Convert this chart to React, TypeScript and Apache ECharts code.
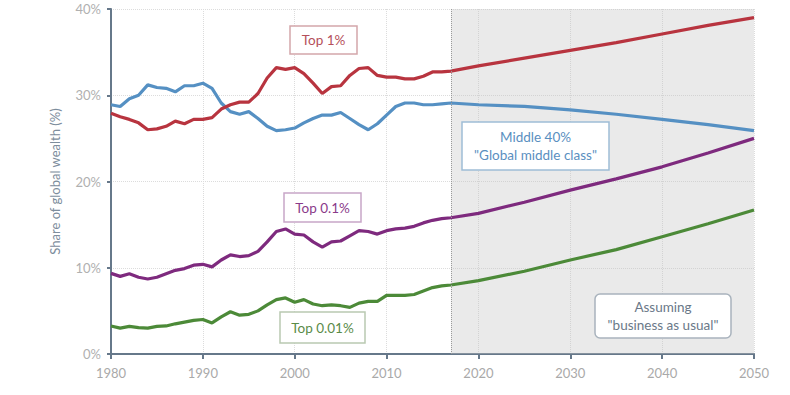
import React, { useEffect, useRef } from "react";
import * as echarts from "echarts";

const years = [
  1980, 1981, 1982, 1983, 1984, 1985, 1986, 1987, 1988, 1989,
  1990, 1991, 1992, 1993, 1994, 1995, 1996, 1997, 1998, 1999,
  2000, 2001, 2002, 2003, 2004, 2005, 2006, 2007, 2008, 2009,
  2010, 2011, 2012, 2013, 2014, 2015, 2016, 2017,
  2020, 2025, 2030, 2035, 2040, 2045, 2050,
];

const top1 = [
  27.9, 27.5, 27.2, 26.8, 26.0, 26.1, 26.4, 27.0, 26.7, 27.2,
  27.2, 27.4, 28.4, 28.9, 29.2, 29.2, 30.2, 32.0, 33.2, 33.0,
  33.2, 32.5, 31.4, 30.2, 31.0, 31.1, 32.3, 33.1, 33.2, 32.3,
  32.1, 32.1, 31.9, 31.9, 32.2, 32.7, 32.7, 32.8,
  33.4, 34.3, 35.2, 36.1, 37.1, 38.1, 39.0,
];

const middle40 = [
  28.9, 28.7, 29.6, 30.0, 31.2, 30.9, 30.8, 30.4, 31.1, 31.1,
  31.4, 30.8, 29.1, 28.1, 27.8, 28.1, 27.3, 26.4, 25.9, 26.0,
  26.2, 26.8, 27.3, 27.7, 27.7, 28.0, 27.3, 26.6, 26.0, 26.7,
  27.7, 28.7, 29.1, 29.1, 28.9, 28.9, 29.0, 29.1,
  28.9, 28.7, 28.3, 27.8, 27.2, 26.6, 25.9,
];

const top01 = [
  9.35, 9.0, 9.3, 8.9, 8.7, 8.9, 9.3, 9.7, 9.9, 10.3,
  10.4, 10.1, 10.9, 11.5, 11.3, 11.4, 11.9, 13.0, 14.2, 14.5,
  13.9, 13.8, 13.0, 12.4, 13.0, 13.1, 13.7, 14.3, 14.2, 13.9,
  14.3, 14.5, 14.6, 14.8, 15.2, 15.5, 15.7, 15.8,
  16.3, 17.6, 19.0, 20.3, 21.7, 23.3, 25.0,
];

const top001 = [
  3.25, 3.0, 3.2, 3.05, 3.0, 3.2, 3.25, 3.5, 3.7, 3.9,
  4.0, 3.6, 4.3, 4.9, 4.5, 4.6, 5.0, 5.7, 6.3, 6.5,
  6.0, 6.3, 5.8, 5.6, 5.7, 5.6, 5.4, 5.9, 6.1, 6.1,
  6.8, 6.8, 6.8, 6.9, 7.3, 7.7, 7.9, 8.0,
  8.5, 9.6, 10.9, 12.1, 13.6, 15.1, 16.7,
];

const projectionStart = 2017;
const projectionEnd = 2050;
const yTicks = [0, 10, 20, 30, 40];

const FONT = "Lato, 'Open Sans', sans-serif";

function pairs(vals: number[]) {
  return years.map((y, i) => [y, vals[i]]);
}

function labelBox(
  x: number,
  y: number,
  w: number,
  h: number,
  lines: string,
  color: string,
  border: string,
  radius = 0
) {
  return {
    type: "group",
    x,
    y,
    z: 100,
    children: [
      {
        type: "rect",
        z: 100,
        shape: { x: 0, y: 0, width: w, height: h, r: radius },
        style: { fill: "#ffffff", stroke: border, lineWidth: 1.5 },
      },
      {
        type: "text",
        z: 101,
        x: w / 2,
        y: h / 2,
        style: {
          text: lines,
          fill: color,
          fontSize: 13.5,
          fontFamily: FONT,
          align: "center",
          verticalAlign: "middle",
          lineHeight: 18,
        },
      },
    ],
  };
}

export default function App() {
  const ref = useRef<HTMLDivElement>(null);

  useEffect(() => {
    if (!ref.current) return;
    const chart = echarts.init(ref.current, undefined, { renderer: "svg" });
    const axisColor = "#66788a";
    const lineSeries = (name: string, vals: number[], color: string, extra: any = {}) => ({
      name,
      type: "line",
      data: pairs(vals),
      showSymbol: false,
      symbol: "none",
      lineStyle: { color, width: 3.2 },
      itemStyle: { color },
      ...extra,
    });
    chart.setOption({
      animation: false,
      grid: { left: 111, right: 36, top: 9, bottom: 41, containLabel: false },
      xAxis: {
        type: "value",
        min: 1980,
        max: 2050,
        interval: 10,
        axisLine: { show: true, lineStyle: { color: axisColor, width: 2 } },
        axisTick: { show: true, length: 5, lineStyle: { color: axisColor, width: 2 } },
        axisLabel: {
          color: "#a9a9a9",
          fontSize: 13,
          fontFamily: FONT,
          margin: 12,
          formatter: (v: number) => String(v),
        },
        splitLine: { show: true, lineStyle: { color: "#dcdcdc", type: "dotted", width: 1 } },
      },
      yAxis: {
        type: "value",
        min: yTicks[0],
        max: yTicks[yTicks.length - 1],
        interval: 10,
        name: "Share of global wealth (%)",
        nameLocation: "middle",
        nameGap: 50,
        nameTextStyle: { color: "#7d8d9c", fontSize: 13, fontFamily: FONT },
        axisLine: { show: true, lineStyle: { color: axisColor, width: 2 } },
        axisTick: { show: true, length: 4, lineStyle: { color: axisColor, width: 2 } },
        axisLabel: {
          color: "#b0b0b0",
          fontSize: 13,
          fontFamily: FONT,
          margin: 10,
          formatter: "{value}%",
        },
        splitLine: { show: true, lineStyle: { color: "#dcdcdc", type: "dotted", width: 1 } },
      },
      series: [
        lineSeries("Middle 40%", middle40, "#5590c3", {
          markArea: {
            silent: true,
            itemStyle: { color: "rgba(195,195,195,0.35)" },
            data: [[{ xAxis: projectionStart }, { xAxis: projectionEnd }]],
          },
          markLine: {
            silent: true,
            symbol: "none",
            label: { show: false },
            lineStyle: { color: "#9a9a9a", type: "dotted", width: 1 },
            data: [{ xAxis: projectionStart }],
          },
        }),
        lineSeries("Top 1%", top1, "#b8343f"),
        lineSeries("Top 0.1%", top01, "#7e2a7e"),
        lineSeries("Top 0.01%", top001, "#4c8a38"),
      ],
      graphic: [
        labelBox(290, 26, 67, 28, "Top 1%", "#b5505a", "#d3a7ab"),
        labelBox(284, 193, 77, 29, "Top 0.1%", "#8a3a8a", "#c8a6c8"),
        labelBox(280, 312, 85, 31, "Top 0.01%", "#5a8b48", "#b9c9b1"),
        labelBox(462, 122, 147, 48, "Middle 40%\n\"Global middle class\"", "#5a8fbf", "#9fbdd6"),
        labelBox(595, 294, 136, 44, "Assuming\n\"business as usual\"", "#6a7888", "#a9b3bd", 5),
      ],
    });
    return () => chart.dispose();
  }, []);

  return (
    <div
      ref={ref}
      style={{ position: "fixed", left: 0, top: 0, width: 790, height: 395, background: "#ffffff" }}
    />
  );
}
